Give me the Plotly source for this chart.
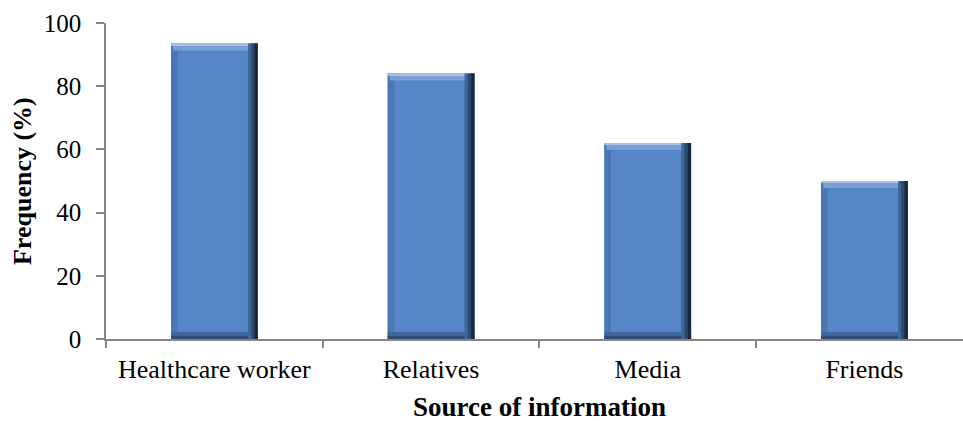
import plotly.graph_objects as go

# Sources of information and the share of respondents citing each
categories = ["Healthcare worker", "Relatives", "Media", "Friends"]
frequency = [93.5, 84, 62, 50]

y_ticks = [0, 20, 40, 60, 80, 100]

FONT = "Liberation Serif"
BAR_W = 0.4
HALF = BAR_W / 2
AXIS_GREY = "#868686"

fig = go.Figure()


def layer(y, width, offset, color, base=None):
    fig.add_trace(go.Bar(
        x=categories, y=y, base=base, width=[width] * len(categories),
        offset=offset, marker=dict(color=color, line=dict(width=0)),
        showlegend=False, hoverinfo="skip",
    ))


# body of each bar
layer(frequency, BAR_W, -HALF, "#5686C7")
# bevelled edges: left, bottom, top highlight, shaded right side
layer(frequency, 0.03, -HALF, "#4A77B3")
layer([2.2] * len(frequency), BAR_W, -HALF, "#40679B")
layer([1.0] * len(frequency), BAR_W, -HALF, "#2F4D75")
layer([2.2] * len(frequency), BAR_W - 0.035, -HALF + 0.01, "#79A0D6",
      base=[v - 2.2 for v in frequency])
layer([0.6] * len(frequency), BAR_W, -HALF, "#A9C2E4",
      base=[v - 0.6 for v in frequency])
layer(frequency, 0.045, HALF - 0.045, "#3E6697")
layer(frequency, 0.03, HALF - 0.03, "#2C4A70")
layer(frequency, 0.015, HALF - 0.015, "#182840")

fig.update_layout(
    width=963, height=421,
    margin=dict(l=106, r=0, t=23, b=82),
    paper_bgcolor="white", plot_bgcolor="white",
    barmode="overlay",
    font=dict(family=FONT, color="black", size=25),
    xaxis=dict(
        range=[-0.5, 3.455],
        showline=True, linecolor=AXIS_GREY, linewidth=1.5,
        ticks="outside", tickson="boundaries", ticklen=7,
        tickcolor=AXIS_GREY, tickwidth=1.5,
        tickfont=dict(family=FONT, size=26, color="black"),
        showgrid=False, zeroline=False,
        ticklabelstandoff=6,
    ),
    yaxis=dict(
        range=[0, 100], tickvals=y_ticks,
        showline=True, linecolor=AXIS_GREY, linewidth=1.5,
        ticks="outside", ticklen=8, tickcolor=AXIS_GREY, tickwidth=1.5,
        tickfont=dict(family=FONT, size=25, color="black"),
        showgrid=False, zeroline=False,
        ticklabelstandoff=10,
    ),
    annotations=[
        dict(text="<b>Source of information</b>", xref="x", x=1.5,
             yref="paper", y=-0.215, xanchor="center", yanchor="middle",
             showarrow=False, font=dict(family=FONT, size=27, color="black")),
        dict(text="<b>Frequency (%)</b>", xref="paper", x=-0.098,
             yref="paper", y=0.5, xanchor="center", yanchor="middle",
             textangle=-90, showarrow=False,
             font=dict(family=FONT, size=26, color="black")),
    ],
)

fig.write_html("out.html")
